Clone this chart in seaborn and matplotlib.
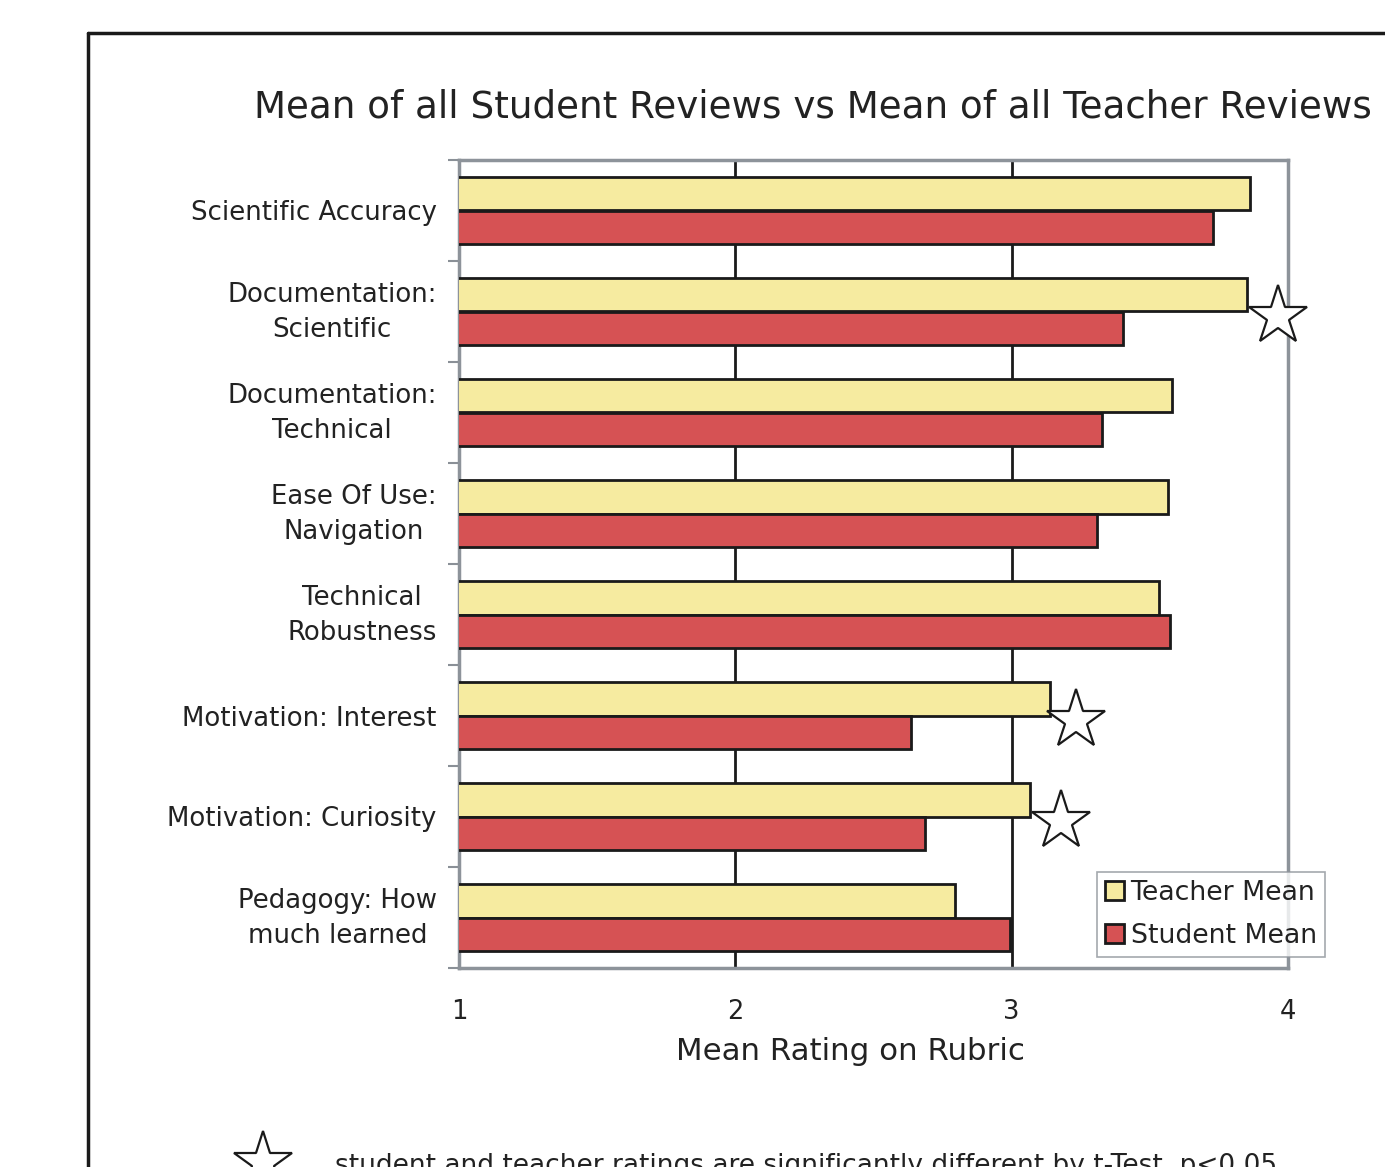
import matplotlib
matplotlib.use("Agg")
import matplotlib.pyplot as plt
import seaborn as sns
import pandas as pd
from matplotlib.lines import Line2D
from matplotlib.patches import Patch
from matplotlib.ticker import FixedLocator
from matplotlib.transforms import ScaledTranslation

categories = ["Scientific Accuracy", "Documentation:\nScientific", "Documentation:\nTechnical",
              "Ease Of Use:\nNavigation", "Technical\nRobustness", "Motivation: Interest",
              "Motivation: Curiosity", "Pedagogy: How\nmuch learned"]
teacher_mean = [3.863, 3.852, 3.580, 3.566, 3.533, 3.139, 3.067, 2.795]
student_mean = [3.729, 3.403, 3.327, 3.309, 3.573, 2.636, 2.687, 2.994]
series_names = ["Teacher Mean", "Student Mean"]
star_categories = [1, 5, 6]
star_x = [3.964, 3.233, 3.179]
x_ticks = [1, 2, 3, 4]

df = pd.DataFrame({
    "Category": categories * 2,
    "Value": teacher_mean + student_mean,
    "Series": [series_names[0]] * len(categories) + [series_names[1]] * len(categories),
})

sns.set_style("white")
plt.rcParams['font.family'] = ['DejaVu Sans']

colors = {"Teacher Mean": "#F6EBA0", "Student Mean": "#D65254"}
TXT = "#222222"

fig = plt.figure(figsize=(13.85, 11.67), dpi=100)
ax = fig.add_axes([459/1385, 1-968/1167, (1288-459)/1385, (968-160)/1167])

sns.barplot(data=df, y="Category", x="Value", hue="Series", order=categories,
            hue_order=series_names, palette=colors, saturation=1, orient="h", width=0.67,
            edgecolor="#1a1a1a", linewidth=2, ax=ax, legend=False, zorder=3)

ax.set_xlim(1, 4)
ax.set_ylim(len(categories) - 0.5, -0.5)
ax.set_xticks(x_ticks)
ax.set_xticklabels([str(t) for t in x_ticks], fontsize=18.5, color=TXT)
ax.tick_params(axis="x", length=8, width=1.5, color="#8a9097", pad=14, direction="out")
ax.tick_params(axis="y", which="major", length=0, pad=16)
ax.yaxis.set_minor_locator(FixedLocator([i - 0.5 for i in range(len(categories) + 1)]))
ax.tick_params(axis="y", which="minor", length=8, width=1.5, color="#8a9097", left=True)
shift_up = ScaledTranslation(0, 5/72, fig.dpi_scale_trans)
for lbl in ax.get_yticklabels():
    lbl.set_fontsize(18.7)
    lbl.set_color(TXT)
    lbl.set_multialignment("center")
    lbl.set_linespacing(1.48)
    if "\n" in lbl.get_text():
        lbl.set_transform(lbl.get_transform() + shift_up)

ax.grid(False)
for xv in [2, 3]:
    ax.axvline(xv, color="#1a1a1a", lw=2, zorder=1)
for s in ax.spines.values():
    s.set_color("#8d939a")
    s.set_linewidth(2.5)
    s.set_visible(True)

ax.set_ylabel("")
ax.set_xlabel("Mean Rating on Rubric", fontsize=22.2, color=TXT, labelpad=10)
ax.xaxis.set_label_coords((850 - 459) / (1288 - 459), -0.085)

ax.plot(star_x, [c + 0.04 for c in star_categories], linestyle="none", marker="*", markersize=44,
        markerfacecolor="white", markeredgecolor="#1a1a1a", markeredgewidth=1.6,
        clip_on=False, zorder=5)

handles = [Patch(facecolor=colors[n], edgecolor="#1a1a1a", linewidth=2, label=n) for n in series_names]
leg = fig.legend(handles=handles, loc="upper left", bbox_to_anchor=(1097/1385, 1-872/1167),
                 fontsize=19.3, frameon=True, fancybox=False, handlelength=0.7, handleheight=0.7,
                 handletextpad=0.25, borderpad=0.3, labelspacing=0.62, borderaxespad=0)
leg.get_frame().set_edgecolor("#8d939a")
leg.get_frame().set_linewidth(1.2)
for t in leg.get_texts():
    t.set_color(TXT)

fig.text(0.587, 1-107/1167, "Mean of all Student Reviews vs Mean of all Teacher Reviews",
         ha="center", va="center", fontsize=26.8, color=TXT)

# border frame
fig.add_artist(Line2D([88/1385, 88/1385], [0, 1-33/1167], color="#1a1a1a", lw=2.5, transform=fig.transFigure))
fig.add_artist(Line2D([88/1385, 1.0], [1-33/1167, 1-33/1167], color="#1a1a1a", lw=2.5, transform=fig.transFigure))

# footnote
fig.add_artist(Line2D([263/1385], [1-1162/1167], linestyle="none", marker="*", markersize=44,
                      markerfacecolor="white", markeredgecolor="#1a1a1a", markeredgewidth=1.6,
                      transform=fig.transFigure))
fig.text(335/1385, 1-1153/1167, "student and teacher ratings are significantly different by t-Test, p<0.05",
         ha="left", va="top", fontsize=19, color=TXT)

fig.savefig("out.png", dpi=100)
